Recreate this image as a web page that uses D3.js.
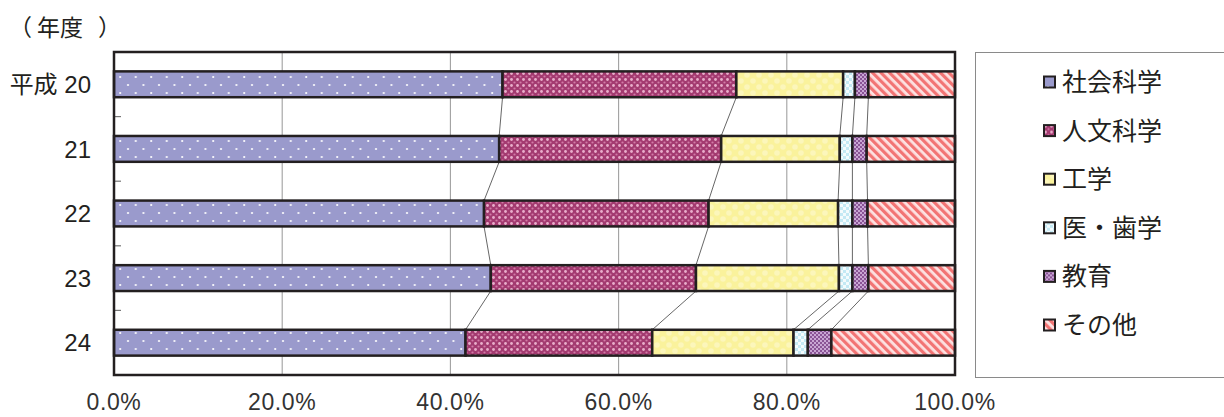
<!DOCTYPE html>
<html>
<head>
<meta charset="utf-8">
<script src="https://cdn.jsdelivr.net/npm/d3@7"></script>
<style>
  html, body { margin: 0; padding: 0; background: #fff; }
  svg { display: block; }
  text { fill: #231f20; }
</style>
</head>
<body>
<div id="chart"></div>
<script>
// values (percent of each year)
var years = ['20', '21', '22', '23', '24'];
var yearLabels = ['平成 20', '21', '22', '23', '24'];
var seriesNames = ['社会科学', '人文科学', '工学', '医・歯学', '教育', 'その他'];
var social      = [46.2, 45.8, 44.0, 44.8, 41.8];
var humanities  = [27.8, 26.4, 26.7, 24.4, 22.2];
var engineering = [12.7, 14.1, 15.4, 17.0, 16.8];
var medical     = [1.4, 1.5, 1.7, 1.6, 1.7];
var education   = [1.6, 1.7, 1.8, 1.9, 2.8];
var other       = [10.3, 10.5, 10.4, 10.3, 14.7];
var xTicks = [0, 20, 40, 60, 80, 100];

var width = 1224, height = 417,
    plot = { left: 114, right: 955, top: 52, bottom: 375 },
    ink = '#231f20',
    latin = '"Liberation Sans", Arial, "Noto Sans CJK JP", sans-serif',
    cjk = '"Noto Sans CJK JP", sans-serif';

var columns = [social, humanities, engineering, medical, education, other];
var table = years.map(function (y, i) {
    var row = { year: y };
    seriesNames.forEach(function (s, k) { row[s] = columns[k][i]; });
    return row;
});
var stacked = d3.stack().keys(seriesNames)(table);

var svg = d3.select('#chart').append('svg')
    .attr('width', width)
    .attr('height', height);

var x = d3.scaleLinear().domain([0, 100]).range([plot.left, plot.right]);
var y = d3.scaleBand().domain(years).range([plot.top, plot.bottom])
    .paddingInner(0.6).paddingOuter(0.3);

// patterns
var defs = svg.append('defs');

var p = defs.append('pattern').attr('id', 'p0').attr('patternUnits', 'userSpaceOnUse')
    .attr('width', 15.5).attr('height', 16);
p.append('rect').attr('width', 15.5).attr('height', 16).attr('fill', '#9a9acc');
p.append('circle').attr('cx', 4).attr('cy', 5).attr('r', 1.1).attr('fill', '#fff');
p.append('circle').attr('cx', 11.75).attr('cy', 13).attr('r', 1.1).attr('fill', '#fff');

p = defs.append('pattern').attr('id', 'p1').attr('patternUnits', 'userSpaceOnUse')
    .attr('width', 6).attr('height', 6);
p.append('rect').attr('width', 6).attr('height', 6).attr('fill', '#a33a70');
p.append('circle').attr('cx', 1.5).attr('cy', 1.5).attr('r', 1.4).attr('fill', '#e9aecb');
p.append('circle').attr('cx', 4.5).attr('cy', 4.5).attr('r', 1.1).attr('fill', '#d27aa6');

p = defs.append('pattern').attr('id', 'p2').attr('patternUnits', 'userSpaceOnUse')
    .attr('width', 12).attr('height', 12);
p.append('rect').attr('width', 12).attr('height', 12).attr('fill', '#faf29c');
p.append('circle').attr('cx', 3).attr('cy', 3).attr('r', 2.8).attr('fill', '#fcf6bb');
p.append('circle').attr('cx', 9).attr('cy', 9).attr('r', 2.8).attr('fill', '#fcf6bb');

p = defs.append('pattern').attr('id', 'p3').attr('patternUnits', 'userSpaceOnUse')
    .attr('width', 6).attr('height', 6);
p.append('rect').attr('width', 6).attr('height', 6).attr('fill', '#c4e9f4');
p.append('rect').attr('width', 3).attr('height', 3).attr('fill', '#f4fbfd');
p.append('rect').attr('x', 3).attr('y', 3).attr('width', 3).attr('height', 3).attr('fill', '#f4fbfd');

p = defs.append('pattern').attr('id', 'p4').attr('patternUnits', 'userSpaceOnUse')
    .attr('width', 4).attr('height', 4);
p.append('rect').attr('width', 4).attr('height', 4).attr('fill', '#8a5496');
p.append('rect').attr('width', 2).attr('height', 2).attr('fill', '#c9a6d4');
p.append('rect').attr('x', 2).attr('y', 2).attr('width', 2).attr('height', 2).attr('fill', '#c9a6d4');

p = defs.append('pattern').attr('id', 'p5').attr('patternUnits', 'userSpaceOnUse')
    .attr('width', 6).attr('height', 6).attr('patternTransform', 'rotate(-45)');
p.append('rect').attr('width', 6).attr('height', 6).attr('fill', '#fde2e2');
p.append('rect').attr('width', 3.2).attr('height', 6).attr('fill', '#f27474');

// grid lines
svg.append('g')
    .selectAll('line')
    .data(xTicks.slice(1, -1))
    .enter().append('line')
    .attr('x1', function (d) { return x(d); })
    .attr('x2', function (d) { return x(d); })
    .attr('y1', plot.top)
    .attr('y2', plot.bottom)
    .attr('stroke', '#a0a0a0')
    .attr('stroke-width', 1.1);

// small ticks between categories
function gapY(d) { return y(d) - (y.step() - y.bandwidth()) / 2; }
svg.append('g')
    .selectAll('line')
    .data(years.slice(1))
    .enter().append('line')
    .attr('x1', plot.left)
    .attr('x2', plot.left + 7)
    .attr('y1', gapY)
    .attr('y2', gapY)
    .attr('stroke', '#777')
    .attr('stroke-width', 1.2);

// series connector lines
var links = [];
stacked.slice(0, -1).forEach(function (layer) {
    for (var i = 0; i < layer.length - 1; i++) {
        links.push({ a: layer[i], b: layer[i + 1] });
    }
});
svg.append('g')
    .selectAll('line')
    .data(links)
    .enter().append('line')
    .attr('x1', function (d) { return x(d.a[1]); })
    .attr('y1', function (d) { return y(d.a.data.year) + y.bandwidth(); })
    .attr('x2', function (d) { return x(d.b[1]); })
    .attr('y2', function (d) { return y(d.b.data.year); })
    .attr('stroke', '#555')
    .attr('stroke-width', 0.9);

// bars
svg.append('g')
    .selectAll('g')
    .data(stacked)
    .enter().append('g')
    .attr('fill', function (d, i) { return 'url(#p' + i + ')'; })
    .selectAll('rect')
    .data(function (d) { return d; })
    .enter().append('rect')
    .attr('x', function (d) { return x(d[0]); })
    .attr('y', function (d) { return y(d.data.year); })
    .attr('width', function (d) { return x(d[1]) - x(d[0]); })
    .attr('height', y.bandwidth())
    .attr('stroke', ink)
    .attr('stroke-width', 2.5);

// plot frame
svg.append('rect')
    .attr('x', plot.left)
    .attr('y', plot.top)
    .attr('width', plot.right - plot.left)
    .attr('height', plot.bottom - plot.top)
    .attr('fill', 'none')
    .attr('stroke', ink)
    .attr('stroke-width', 2.5);

// y labels
svg.append('g')
    .selectAll('text')
    .data(years)
    .enter().append('text')
    .text(function (d, i) { return yearLabels[i]; })
    .attr('x', 91)
    .attr('y', function (d) { return y(d) + y.bandwidth() / 2; })
    .attr('dy', '0.36em')
    .attr('text-anchor', 'end')
    .style('font-family', latin)
    .style('font-size', '24px');

// x labels
svg.append('g')
    .selectAll('text')
    .data(xTicks)
    .enter().append('text')
    .text(function (d) { return d3.format('.1f')(d) + '%'; })
    .attr('x', function (d) { return x(d); })
    .attr('y', 410)
    .attr('text-anchor', 'middle')
    .style('font-family', latin)
    .style('font-size', '23px')
    .style('letter-spacing', '0.6px')
    .style('fill', '#333');

// unit label
var unit = svg.append('text')
    .attr('y', 36)
    .style('font-family', cjk)
    .style('font-size', '23px');
unit.append('tspan').attr('x', 9).text('（');
unit.append('tspan').attr('x', 37).text('年度');
unit.append('tspan').attr('x', 98).text('）');

// legend
svg.append('rect')
    .attr('x', 975.5)
    .attr('y', 52.5)
    .attr('width', 260)
    .attr('height', 325)
    .attr('fill', '#fff')
    .attr('stroke', '#8a8a8a')
    .attr('stroke-width', 1);

var legend = svg.append('g')
    .selectAll('g')
    .data(seriesNames)
    .enter().append('g')
    .attr('transform', function (d, i) { return 'translate(1044,' + (82 + i * 48.6) + ')'; });

legend.append('rect')
    .attr('x', 0)
    .attr('y', -5.5)
    .attr('width', 11)
    .attr('height', 11)
    .attr('fill', function (d, i) { return 'url(#p' + i + ')'; })
    .attr('stroke', ink)
    .attr('stroke-width', 2);

legend.append('text')
    .text(function (d) { return d; })
    .attr('x', 18)
    .attr('y', 0)
    .attr('dy', '0.36em')
    .style('font-family', cjk)
    .style('font-size', '25px');
</script>
</body>
</html>
